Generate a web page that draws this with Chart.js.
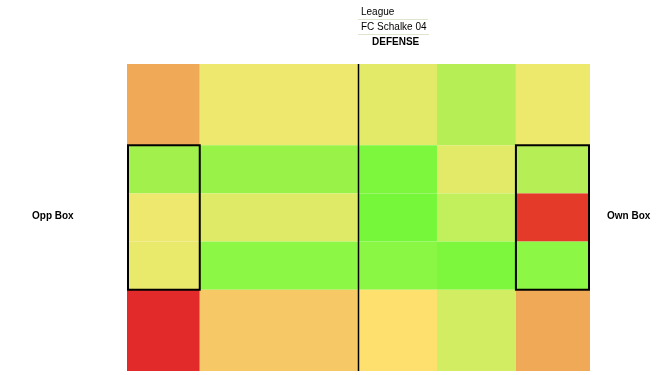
<!DOCTYPE html>
<html>
<head>
<meta charset="utf-8">
<script src="https://cdn.jsdelivr.net/npm/chart.js@4.4.1/dist/chart.umd.min.js"></script>
<style>
  html, body { margin: 0; padding: 0; background: #fff; }
  #wrap { position: relative; width: 659px; height: 375px; font-family: "Liberation Sans", Arial, sans-serif; }
  #pitch { position: absolute; left: 0; top: 0; }
  .lbl { position: absolute; font-size: 10px; line-height: 10px; color: #000; white-space: nowrap; }
  .b { font-weight: bold; }
  .sep { position: absolute; height: 1px; background: #dde5cf; }
</style>
</head>
<body>
<div id="wrap">
  <canvas id="pitch" width="659" height="375"></canvas>
  <div class="lbl" style="left:361px;top:7px;">League</div>
  <div class="sep" style="left:358px;top:19px;width:70px;"></div>
  <div class="lbl" style="left:361px;top:22px;">FC Schalke 04</div>
  <div class="sep" style="left:358px;top:34px;width:71px;"></div>
  <div class="lbl b" style="left:372px;top:37px;">DEFENSE</div>
  <div class="lbl b" style="left:32px;top:211px;">Opp Box</div>
  <div class="lbl b" style="left:607px;top:211px;">Own Box</div>
</div>
<script>
// zone edges along the pitch (metres), left = opponent goal
const xEdges = [0, 16.5, 52.5, 70.3, 88.2, 105];
const yEdges = [0, 18, 28.67, 39.33, 50, 68];

// estimated rating per zone (0 = worst / red, 1 = best / green), rows top to bottom
const zoneRow1 = [0.25, 0.50, 0.55, 0.72, 0.51];
const zoneRow2 = [0.80, 0.85, 0.97, 0.55, 0.72];
const zoneRow3 = [0.50, 0.56, 1.00, 0.65, 0.10];
const zoneRow4 = [0.52, 0.90, 0.91, 0.97, 0.90];
const zoneRow5 = [0.00, 0.33, 0.40, 0.60, 0.25];
const zoneRows = [zoneRow1, zoneRow2, zoneRow3, zoneRow4, zoneRow5];

// colour scale, red -> orange -> yellow -> green
const colorStops = [
    [0.00, [225, 42, 41]],
    [0.10, [227, 58, 42]],
    [0.25, [240, 170, 87]],
    [0.33, [246, 201, 102]],
    [0.40, [254, 224, 110]],
    [0.50, [238, 233, 110]],
    [0.55, [226, 234, 104]],
    [0.65, [194, 240, 92]],
    [0.72, [181, 239, 85]],
    [0.80, [162, 240, 76]],
    [0.85, [152, 242, 71]],
    [0.90, [140, 247, 69]],
    [1.00, [118, 247, 58]]
];

function zoneColor(v) {
    for (let i = 1; i < colorStops.length; i++) {
        const a = colorStops[i - 1], b = colorStops[i];
        if (v <= b[0]) {
            const t = (v - a[0]) / (b[0] - a[0]);
            const c = a[1].map((ch, k) => Math.round(ch + (b[1][k] - ch) * t));
            return "rgb(" + c.join(",") + ")";
        }
    }
    return "rgb(" + colorStops[colorStops.length - 1][1].join(",") + ")";
}

// one point per zone, at its centre
const points = [];
zoneRows.forEach((row, r) => {
    row.forEach((v, c) => {
        points.push({
            x: (xEdges[c] + xEdges[c + 1]) / 2,
            y: (yEdges[r] + yEdges[r + 1]) / 2,
            row: r, col: c, v: v
        });
    });
});

const zonePlugin = {
    id: "zones",
    beforeDatasetsDraw(chart) {
        const ctx = chart.ctx;
        const xs = chart.scales.x, ys = chart.scales.y;
        ctx.save();
        points.forEach(p => {
            const x0 = xs.getPixelForValue(xEdges[p.col]);
            const x1 = xs.getPixelForValue(xEdges[p.col + 1]);
            const y0 = ys.getPixelForValue(yEdges[p.row]);
            const y1 = ys.getPixelForValue(yEdges[p.row + 1]);
            ctx.fillStyle = zoneColor(p.v);
            ctx.fillRect(x0, y0, x1 - x0, y1 - y0);
        });

        // halfway line
        ctx.strokeStyle = "#000";
        ctx.lineWidth = 1.5;
        const hx = xs.getPixelForValue(52.5);
        ctx.beginPath();
        ctx.moveTo(hx, ys.getPixelForValue(0));
        ctx.lineTo(hx, ys.getPixelForValue(68));
        ctx.stroke();

        // both boxes, kept inside the pitch
        ctx.lineWidth = 2;
        const left = xs.getPixelForValue(0), right = xs.getPixelForValue(105);
        [[xEdges[0], xEdges[1]], [xEdges[4], xEdges[5]]].forEach(b => {
            const bx0 = Math.max(xs.getPixelForValue(b[0]), left + 1);
            const bx1 = Math.min(xs.getPixelForValue(b[1]), right - 1);
            const by0 = ys.getPixelForValue(yEdges[1]);
            const by1 = ys.getPixelForValue(yEdges[4]);
            ctx.strokeRect(bx0, by0, bx1 - bx0, by1 - by0);
        });
        ctx.restore();
    }
};

new Chart(document.getElementById("pitch"), {
    type: "scatter",
    data: {
        datasets: [{
            data: points,
            pointRadius: 0,
            pointHoverRadius: 0
        }]
    },
    options: {
        responsive: false,
        animation: false,
        layout: { padding: { left: 127, right: 69, top: 64, bottom: 4 } },
        plugins: { legend: { display: false }, tooltip: { enabled: false } },
        scales: {
            x: { type: "linear", min: 0, max: 105, display: false },
            y: { type: "linear", min: 0, max: 68, reverse: true, display: false }
        }
    },
    plugins: [zonePlugin]
});
</script>
</body>
</html>
